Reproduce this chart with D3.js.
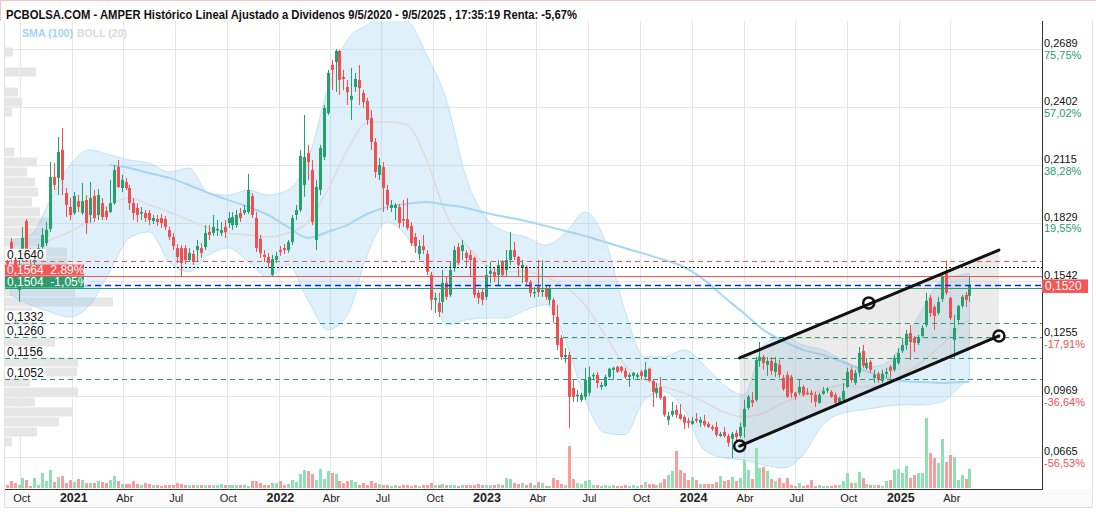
<!DOCTYPE html>
<html><head><meta charset="utf-8">
<script src="https://cdn.jsdelivr.net/npm/d3@7"></script>
<style>
body{margin:0;background:#fff;}
svg{display:block;font-family:"Liberation Sans",Arial,sans-serif;}
</style>
</head><body>
<svg id="c" width="1096" height="512"></svg>
<script>
// ---------------- DATA ----------------
const title = "PCBOLSA.COM - AMPER Histórico Lineal Ajustado a Dividenos 9/5/2020 - 9/5/2025 , 17:35:19 Renta: -5,67%";
const firstWeek = [2020, 8, 7]; // weekly candles from 7 Sep 2020

const opens = [.1640,.1733,.1654,.1495,.1644,.1837,.1683,.1634,.1664,.1708,.1728,.1798,.2056,.2051,.2190,.1976,.1907,.1877,.1936,.1877,.1941,.1867,.1961,.1867,.1926,.1887,.1882,.1926,.2105,.2001,.2031,.2001,.1926,.1902,.1877,.1877,.1877,.1837,.1847,.1852,.1847,.1793,.1758,.1703,.1703,.1703,.1644,.1674,.1693,.1703,.1708,.1783,.1778,.1793,.1778,.1808,.1827,.1817,.1817,.1877,.1877,.1882,.1961,.1852,.1748,.1669,.1659,.1570,.1644,.1693,.1703,.1693,.1733,.1867,.1892,.2016,.2175,.2090,.1743,.1991,.2155,.2373,.2611,.2626,.2681,.2552,.2502,.2438,.2502,.2537,.2472,.2433,.2349,.2229,.2066,.2105,.1991,.1902,.1902,.1907,.1847,.1847,.1813,.1758,.1674,.1713,.1674,.1570,.1446,.1431,.1436,.1530,.1471,.1604,.1708,.1689,.1679,.1669,.1654,.1481,.1485,.1461,.1575,.1585,.1570,.1634,.1594,.1644,.1693,.1659,.1604,.1609,.1535,.1481,.1510,.1485,.1505,.1446,.1446,.1361,.1257,.1163,.1173,.1009,.0970,.0950,.0965,.0985,.1069,.1074,.1014,.1019,.1064,.1099,.1114,.1114,.1094,.1064,.1069,.1064,.1089,.1064,.1104,.1044,.0985,.1014,.0965,.0851,.0876,.0900,.0880,.0866,.0846,.0831,.0856,.0836,.0846,.0831,.0816,.0816,.0771,.0791,.0771,.0757,.0786,.0771,.0816,.0910,.0950,.0950,.1143,.1163,.1124,.1143,.1089,.1124,.1059,.1074,.1064,.0985,.0985,.1014,.0985,.0985,.0975,.0935,.0980,.0999,.0990,.0975,.0935,.0950,.1014,.1099,.1034,.1084,.1193,.1109,.1138,.1059,.1079,.1044,.1079,.1114,.1099,.1133,.1193,.1222,.1282,.1257,.1232,.1267,.1321,.1456,.1411,.1381,.1451,.1580,.1456,.1247,.1346,.1416,.1471,.1466];
const highs = [.1664,.1753,.1669,.1644,.1808,.1847,.1703,.1693,.1723,.1803,.1832,.2130,.2125,.2254,.2299,.2001,.1951,.1981,.1966,.2026,.1966,.2031,.1991,.1996,.1951,.1907,.2041,.2115,.2140,.2066,.2051,.2016,.1951,.1926,.1907,.1892,.1892,.1867,.1867,.1872,.1862,.1808,.1778,.1723,.1718,.1718,.1703,.1693,.1743,.1728,.1817,.1817,.1867,.1842,.1832,.1842,.1882,.1882,.1892,.1902,.1917,.2071,.1976,.1882,.1768,.1693,.1679,.1669,.1684,.1713,.1723,.1743,.1867,.1917,.2190,.2363,.2215,.2140,.2041,.2215,.2413,.2587,.2636,.2691,.2686,.2587,.2537,.2597,.2572,.2611,.2487,.2448,.2388,.2249,.2150,.2130,.2016,.1941,.1926,.1922,.1941,.1951,.1832,.1778,.1743,.1768,.1693,.1585,.1481,.1481,.1594,.1560,.1634,.1713,.1728,.1743,.1693,.1693,.1660,.1495,.1505,.1619,.1634,.1604,.1644,.1644,.1693,.1783,.1733,.1664,.1644,.1619,.1545,.1510,.1644,.1644,.1520,.1520,.1456,.1421,.1272,.1207,.1188,.1049,.0999,.0985,.1109,.1114,.1084,.1089,.1039,.1074,.1109,.1114,.1119,.1119,.1109,.1084,.1089,.1084,.1099,.1138,.1110,.1049,.1034,.1064,.0970,.0890,.0940,.0925,.0930,.0876,.0861,.0866,.0885,.0866,.0876,.0841,.0826,.0841,.0791,.0816,.0781,.0791,.0801,.0836,.0950,.0975,.0990,.1163,.1237,.1173,.1163,.1163,.1163,.1148,.1074,.1089,.1074,.0990,.1049,.1024,.1009,.0999,.0990,.0985,.1014,.1014,.0999,.0985,.0965,.1034,.1109,.1114,.1099,.1212,.1222,.1158,.1148,.1099,.1089,.1099,.1109,.1124,.1173,.1207,.1257,.1297,.1321,.1267,.1272,.1321,.1481,.1471,.1421,.1461,.1580,.1640,.1461,.1371,.1421,.1471,.1485,.1560];
const lows = [.1600,.1634,.1565,.1436,.1634,.1634,.1624,.1619,.1644,.1693,.1713,.1783,.1991,.1966,.1966,.1857,.1842,.1867,.1882,.1867,.1773,.1827,.1832,.1842,.1842,.1842,.1877,.1917,.2001,.1981,.1991,.1892,.1842,.1832,.1842,.1832,.1817,.1822,.1813,.1803,.1793,.1743,.1693,.1629,.1560,.1624,.1634,.1619,.1634,.1654,.1693,.1743,.1763,.1763,.1763,.1753,.1803,.1793,.1803,.1832,.1867,.1872,.1852,.1684,.1654,.1634,.1604,.1560,.1629,.1664,.1674,.1679,.1718,.1842,.1882,.1957,.2041,.1817,.1693,.1966,.2140,.2363,.2487,.2477,.2463,.2487,.2413,.2339,.2477,.2413,.2398,.2314,.2190,.2051,.2041,.1882,.1892,.1882,.1842,.1803,.1808,.1793,.1713,.1679,.1644,.1674,.1570,.1396,.1381,.1361,.1381,.1446,.1461,.1585,.1619,.1644,.1609,.1560,.1456,.1426,.1421,.1446,.1530,.1535,.1515,.1560,.1560,.1619,.1644,.1560,.1530,.1520,.1461,.1456,.1461,.1461,.1446,.1421,.1332,.1198,.1148,.1133,.0811,.0940,.0940,.0940,.0950,.0970,.1049,.1009,.0999,.1014,.1059,.1049,.1084,.1084,.1054,.1014,.1049,.1049,.1049,.1054,.1039,.0915,.0960,.0950,.0866,.0826,.0866,.0861,.0851,.0806,.0811,.0826,.0836,.0816,.0816,.0811,.0796,.0766,.0766,.0762,.0717,.0662,.0737,.0762,.0762,.0900,.0915,.0940,.1114,.1099,.1069,.1074,.1064,.1059,.0994,.0960,.0960,.0950,.0975,.0965,.0975,.0935,.0915,.0930,.0975,.0985,.0960,.0925,.0925,.0940,.1009,.1034,.1024,.1064,.1109,.1099,.1084,.1034,.1034,.1034,.1059,.1059,.1089,.1124,.1183,.1198,.1148,.1188,.1222,.1262,.1311,.1361,.1297,.1371,.1436,.1471,.1346,.1158,.1321,.1406,.1411,.1436];
const closes = [.1625,.1654,.1594,.1619,.1753,.1644,.1644,.1674,.1703,.1768,.1793,.2056,.2016,.2180,.2041,.1917,.1867,.1961,.1907,.1936,.1827,.1951,.1852,.1966,.1857,.1857,.1926,.2090,.2006,.2041,.2001,.1926,.1877,.1867,.1882,.1852,.1842,.1852,.1832,.1827,.1808,.1758,.1713,.1659,.1629,.1644,.1679,.1634,.1713,.1679,.1778,.1768,.1808,.1798,.1793,.1783,.1852,.1857,.1867,.1852,.1892,.1991,.1867,.1703,.1679,.1659,.1629,.1649,.1664,.1684,.1693,.1733,.1852,.1892,.2160,.2155,.2130,.1832,.2006,.2200,.2398,.2572,.2587,.2681,.2537,.2542,.2477,.2458,.2542,.2497,.2428,.2339,.2229,.2080,.2115,.2001,.1917,.1917,.1917,.1827,.1842,.1803,.1728,.1713,.1713,.1693,.1585,.1446,.1456,.1386,.1530,.1461,.1594,.1693,.1629,.1718,.1654,.1644,.1471,.1456,.1446,.1570,.1590,.1565,.1619,.1570,.1644,.1693,.1659,.1619,.1619,.1535,.1481,.1485,.1485,.1495,.1461,.1505,.1371,.1222,.1163,.1173,.0965,.0965,.0975,.0975,.1049,.1064,.1074,.1034,.1024,.1064,.1104,.1109,.1089,.1094,.1064,.1074,.1084,.1074,.1069,.1099,.1044,.0990,.1009,.0960,.0876,.0871,.0895,.0876,.0856,.0836,.0836,.0846,.0846,.0851,.0826,.0816,.0806,.0776,.0781,.0771,.0737,.0781,.0766,.0816,.0905,.0965,.0935,.1148,.1163,.1133,.1143,.1094,.1133,.1074,.1004,.0965,.0985,.0965,.1014,.0975,.0980,.0975,.0940,.0975,.0994,.1004,.0965,.0935,.0960,.0994,.1089,.1049,.1084,.1183,.1119,.1133,.1099,.1074,.1049,.1079,.1089,.1094,.1158,.1183,.1222,.1277,.1237,.1232,.1262,.1307,.1441,.1381,.1366,.1436,.1560,.1481,.1356,.1307,.1416,.1461,.1446,.1520];
const volumes = [3,7,5,3,10,8,2,10,3,15,7,18,6,11,12,5,8,6,9,8,5,5,5,7,6,5,8,12,7,4,4,4,7,4,3,5,4,3,3,2,3,3,3,5,4,3,3,3,3,3,3,3,3,3,4,3,3,3,3,3,3,2,7,7,5,3,3,5,5,7,3,4,8,6,14,18,17,14,8,19,9,17,15,14,7,5,7,8,6,3,5,3,7,5,
 4,3,3,2,3,2,3,3,2,3,2,3,3,5,3,3,4,3,3,3,2,3,3,3,3,4,3,3,3,3,4,3,
 10,9,5,4,5,3,5,3,6,5,2,2,10,8,4,3,42,9,5,4,7,8,3,3,2,3,2,3,2,2,3,2,3,2,3,6,4,4,3,5,
 9,13,17,37,18,15,8,11,8,4,4,4,4,6,12,7,8,11,7,10,28,18,9,40,20,21,17,9,7,
 10,5,10,3,2,5,2,3,8,2,3,2,2,2,3,3,7,15,5,5,16,10,4,3,3,3,2,7,8,18,19,15,22,10,13,15,15,70,35,30,25,49,26,33,31,8,13,9,19];

// Bollinger (20) and SMA (100), sampled at candle indices
const bandWeek = [1,6,11,16,21,26,31,36,41,46,51,56,61,66,71,76,81,86,91,96,101,106,111,116,121,126,131,136,141,146,151,156,161,166,171,176,181,186,191,196,201,206,211,216,221,226,231,236,241,243];
const bollUpper = [.1743,.1768,.1941,.2115,.2190,.2165,.2140,.2125,.2081,.2100,.1976,.1966,.1991,.1966,.1991,.2140,.2487,.2735,.2810,.2859,.2834,.2661,.2438,.2051,.1852,.1783,.1758,.1718,.1778,.1882,.1743,.1396,.1163,.1163,.1198,.1123,.1024,.0975,.1222,.1262,.1222,.1198,.1148,.1109,.1123,.1222,.1396,.1545,.1570,.1579];
const bollLower = [.1470,.1421,.1386,.1361,.1421,.1585,.1753,.1783,.1634,.1585,.1669,.1703,.1634,.1560,.1619,.1446,.1297,.1371,.1669,.1832,.1758,.1594,.1321,.1346,.1356,.1356,.1396,.1421,.1247,.0950,.0786,.0776,.0950,.0989,.0900,.0702,.0662,.0652,.0627,.0612,.0677,.0826,.0885,.0900,.0915,.0925,.0925,.0940,.1024,.1059];
const bollMid = [.1619,.1669,.1743,.1783,.1842,.1917,.1951,.1917,.1882,.1842,.1803,.1778,.1768,.1758,.1778,.1832,.1991,.2190,.2324,.2329,.2314,.2140,.1867,.1718,.1619,.1585,.1585,.1560,.1510,.1421,.1272,.1123,.1049,.1014,.0984,.0940,.0890,.0866,.0885,.0935,.0974,.0999,.1024,.1014,.1024,.1074,.1138,.1222,.1321,.1346];
const smaWeek = bandWeek.slice(5);
const sma100 = [.2115,.2100,.2075,.2051,.2016,.1976,.1941,.1907,.1867,.1808,.1753,.1783,.1818,.1872,.1907,.1922,.1932,.1917,.1902,.1877,.1857,.1837,.1813,.1788,.1763,.1733,.1703,.1674,.1644,.1609,.1545,.1461,.1381,.1297,.1242,.1198,.1173,.1138,.1099,.1064,.1044,.1039,.1034,.1039,.1039];

// Volume profile (price bins)
const profileBase = 0.07163, profileStep = 0.00496;
const profileVol = [7,32,54,67,30,73,25,72,73,20,50,40,30,27,108,70,80,60,62,62,43,45,48,35,27,33,30,22,32,9,0,0,0,7,17,13,0,31,0,8];

// Axes
const priceTicks = [0.2689,0.2402,0.2115,0.1829,0.1542,0.1255,0.0969,0.0665];
const pctLabels = ["75,75%","57,02%","38,28%","19,55%","","-17,91%","-36,64%","-56,53%"];
const xTickDates = ["2020-10-01","2021-01-01","2021-04-01","2021-07-01","2021-10-01","2022-01-01","2022-04-01","2022-07-01","2022-10-01","2023-01-01","2023-04-01","2023-07-01","2023-10-01","2024-01-01","2024-04-01","2024-07-01","2024-10-01","2025-01-01","2025-04-01"];
const xTickLabels = ["Oct","2021","Abr","Jul","Oct","2022","Abr","Jul","Oct","2023","Abr","Jul","Oct","2024","Abr","Jul","Oct","2025","Abr"];

// Horizontal levels
const supportLevels = [0.1332,0.1260,0.1156,0.1052];
const resistLevel = 0.1640;
const maxDotted = 0.1610;
const redBox = {p:0.1564, text:"0,1564  2.89%"};
const greenBox = {p:0.1504, text:"0,1504  -1,05%"};
const lastPrice = 0.1520;

// Trend channel
const channelDates = ["2024-03-25","2025-06-26"];
const channelTop = [0.1158,0.1693];
const channelBottom = [0.0721,0.1267];
const channelDots = [{d:"2024-03-25",p:0.0721},{d:"2024-11-08",p:0.1431},{d:"2025-06-26",p:0.1267}];

// ---------------- DRAW ----------------
const svg = d3.select("#c");
const L=5, R=1042, T=21, B=489;
const pd = s => { const [a,b,c]=s.split("-").map(Number); return new Date(a,b-1,c); };
const week = i => new Date(firstWeek[0], firstWeek[1], firstWeek[2] + 7*i);
const x = d3.scaleTime().domain([new Date(2021,0,1), new Date(2025,0,1)]).range([72.3, 899.3]);
const y = d3.scaleLinear().domain([0.0665,0.2689]).range([457.3,49.3]);
const yv = d3.scaleLinear().domain([0,70]).range([488,418]);
const pw = d3.scaleLinear().domain([0,108]).range([0,108]);
const fmt = v => d3.format(".4f")(v).replace(".", ",");
const GREEN="#26a06f", RED="#f44f4f";

svg.append("rect").attr("width",1096).attr("height",512).attr("fill","#fff");
svg.append("defs").append("clipPath").attr("id","clip").append("rect").attr("x",L).attr("y",T).attr("width",R-L).attr("height",B-T);

// bottom strip
svg.append("rect").attr("x",L).attr("y",B).attr("width",1092-L).attr("height",18).attr("fill","#fafafa");
svg.append("line").attr("x1",L).attr("x2",1092).attr("y1",507.5).attr("y2",507.5).attr("stroke","#e2e2e2");
svg.append("line").attr("x1",1092.5).attr("x2",1092.5).attr("y1",21).attr("y2",508).attr("stroke","#e2e2e2");
svg.append("line").attr("x1",4.5).attr("x2",4.5).attr("y1",21).attr("y2",508).attr("stroke","#e2e2e2");
svg.append("line").attr("x1",0).attr("x2",1096).attr("y1",0.5).attr("y2",0.5).attr("stroke","#f1c6c6");
svg.append("line").attr("x1",0.5).attr("x2",0.5).attr("y1",0).attr("y2",21).attr("stroke","#f1c6c6");

const plot = svg.append("g").attr("clip-path","url(#clip)");

// grid
plot.selectAll("line.hg").data(priceTicks).join("line")
  .attr("x1",L).attr("x2",R).attr("y1",d=>Math.round(y(d))+0.5).attr("y2",d=>Math.round(y(d))+0.5)
  .attr("stroke","#e6e6e6");
plot.selectAll("line.vg").data(xTickDates).join("line")
  .attr("x1",d=>Math.round(x(pd(d)))+0.5).attr("x2",d=>Math.round(x(pd(d)))+0.5).attr("y1",T).attr("y2",B)
  .attr("stroke","#e6e6e6");

// volume profile
plot.selectAll("rect.prof").data(profileVol).join("rect")
  .attr("x",L).attr("y",(v,k)=>y(profileBase+(k+1)*profileStep)+0.5)
  .attr("height",(v,k)=>y(profileBase+k*profileStep)-y(profileBase+(k+1)*profileStep)-1)
  .attr("width",v=>pw(v)).attr("fill","#e6e6e6");

// Bollinger bands
const band = bandWeek.map((w,k)=>({d:week(w),u:bollUpper[k],l:bollLower[k],m:bollMid[k]}));
plot.append("path").datum(band)
  .attr("d", d3.area().x(d=>x(d.d)).y0(d=>y(d.l)).y1(d=>y(d.u)).curve(d3.curveMonotoneX))
  .attr("fill","rgba(140,200,242,0.28)").attr("stroke","rgba(140,200,242,0.45)").attr("stroke-width",1);
plot.append("path").datum(band)
  .attr("d", d3.line().x(d=>x(d.d)).y(d=>y(d.m)).curve(d3.curveMonotoneX))
  .attr("fill","none").attr("stroke","#e0dada").attr("stroke-width",1.5);
const sma = smaWeek.map((w,k)=>({d:week(w),v:sma100[k]}));
plot.append("path").datum(sma)
  .attr("d", d3.line().x(d=>x(d.d)).y(d=>y(d.v)).curve(d3.curveMonotoneX))
  .attr("fill","none").attr("stroke","#a6d6f6").attr("stroke-width",2);

// channel fill
const cd = channelDates.map(pd);
plot.append("path")
  .attr("d", d3.line()([[x(cd[0]),y(channelTop[0])],[x(cd[1]),y(channelTop[1])],[x(cd[1]),y(channelBottom[1])],[x(cd[0]),y(channelBottom[0])]]) + "Z")
  .attr("fill","rgba(175,175,175,0.25)");

// candles + volume
const candles = opens.map((o,i)=>({d:week(i),o,h:highs[i],l:lows[i],c:closes[i],v:volumes[i]}));
const cx = d => Math.round(x(d.d));
plot.selectAll("rect.vol").data(candles).join("rect")
  .attr("x",d=>cx(d)-1).attr("width",3)
  .attr("y",d=>yv(d.v)).attr("height",d=>yv(0)-yv(d.v))
  .attr("fill",d=>d.c>=d.o?"#8fe0b4":"#f89c9c");
plot.selectAll("rect.wick").data(candles).join("rect")
  .attr("x",d=>cx(d)).attr("width",1)
  .attr("y",d=>y(d.h)).attr("height",d=>Math.max(1,y(d.l)-y(d.h)))
  .attr("fill",d=>d.c>=d.o?GREEN:RED);
plot.selectAll("rect.body").data(candles).join("rect")
  .attr("x",d=>cx(d)-1).attr("width",3)
  .attr("y",d=>y(Math.max(d.o,d.c))).attr("height",d=>Math.max(1.5,Math.abs(y(d.o)-y(d.c))))
  .attr("fill",d=>d.c>=d.o?GREEN:RED);

// horizontal level lines
const hl = (p,color,dash,w) => plot.append("line").attr("x1",L).attr("x2",R)
  .attr("y1",Math.round(y(p))+0.5).attr("y2",Math.round(y(p))+0.5)
  .attr("stroke",color).attr("stroke-width",w||1).attr("stroke-dasharray",dash||null);
hl(resistLevel,"#f55555","5,4");
hl(maxDotted,"#111","2,2");
hl(redBox.p,"#f55555");
hl(greenBox.p,"#2c9a6c");
hl(lastPrice,"#1020ff","6,4",1.5);
supportLevels.forEach(p=>hl(p,"#2c9a6c","5,4"));

// channel lines + dots
plot.selectAll("line.ch").data([channelTop,channelBottom]).join("line")
  .attr("x1",x(cd[0])).attr("x2",x(cd[1])).attr("y1",d=>y(d[0])).attr("y2",d=>y(d[1]))
  .attr("stroke","#111").attr("stroke-width",3).attr("stroke-linecap","round");
plot.selectAll("circle.dot").data(channelDots).join("circle")
  .attr("cx",d=>x(pd(d.d))).attr("cy",d=>y(d.p)).attr("r",5.5)
  .attr("fill","none").attr("stroke","#111").attr("stroke-width",2.5);

// left labels
const lab = svg.append("g").style("font-size","12px");
[resistLevel,...supportLevels].forEach(p=>{
  const g = lab.append("g");
  const t = g.append("text").attr("x",7).attr("y",y(p)-2).attr("fill","#111").text(fmt(p));
  const bb = t.node().getBBox();
  g.insert("rect","text").attr("x",L).attr("y",y(p)-12).attr("width",bb.width+4).attr("height",11).attr("fill","#fff");
});
[[redBox,"#f55555"],[greenBox,"#2a9d6e"]].forEach(([b,col])=>{
  lab.append("rect").attr("x",L).attr("y",y(b.p)-11.5).attr("width",79).attr("height",11).attr("fill",col);
  lab.append("text").attr("x",7).attr("y",y(b.p)-2).attr("fill","#fff").attr("xml:space","preserve").style("white-space","pre").text(b.text);
});

// frame lines
svg.append("line").attr("x1",L).attr("x2",R+0.5).attr("y1",B+0.5).attr("y2",B+0.5).attr("stroke","#333");
svg.append("line").attr("x1",R+0.5).attr("x2",R+0.5).attr("y1",T).attr("y2",B+1).attr("stroke","#333");

// right axis
const ra = svg.append("g").attr("transform",`translate(${R},0)`)
  .call(d3.axisRight(y).tickValues(priceTicks).tickFormat(fmt).tickSize(0).tickPadding(2));
ra.select(".domain").remove();
ra.selectAll("text").attr("dy","-2.5").attr("fill","#111").style("font-size","11px").style("font-family","'Liberation Sans',Arial,sans-serif");
svg.selectAll("text.pct").data(priceTicks).join("text").attr("class","pct")
  .attr("x",R+2).attr("y",d=>y(d)+9.5).style("font-size","11px")
  .attr("fill",(d,i)=>pctLabels[i].startsWith("-")?"#f05050":"#2a9d6e").text((d,i)=>pctLabels[i]);
svg.append("rect").attr("x",R).attr("y",y(lastPrice)-5.5).attr("width",46).attr("height",13.5).attr("fill","#f55555");
svg.append("text").attr("x",R+3).attr("y",y(lastPrice)+5.5).attr("fill","#fff").style("font-size","12px").text(fmt(lastPrice));

// bottom axis
const xa = svg.append("g").attr("transform",`translate(0,${B})`)
  .call(d3.axisBottom(x).tickValues(xTickDates.map(pd)).tickFormat((d,i)=>xTickLabels[i]).tickSize(0));
xa.select(".domain").remove();
xa.selectAll("text").attr("y",13).attr("dy",0).attr("dx",1).attr("fill","#222")
  .style("font-family","'Liberation Sans',Arial,sans-serif")
  .style("font-size",(d,i)=>/^\d{4}$/.test(xTickLabels[i])?"12.5px":"11px")
  .style("font-weight",(d,i)=>/^\d{4}$/.test(xTickLabels[i])?"bold":"normal");

// title + legend
svg.append("text").attr("x",6).attr("y",19).attr("fill","#111").style("font-weight","bold").style("font-size","12.5px")
  .attr("textLength",571).attr("lengthAdjust","spacingAndGlyphs").text(title);
svg.append("text").attr("x",22).attr("y",36.5).attr("fill","#a3d3f4").style("font-weight","bold").style("font-size","11px")
  .attr("textLength",51).attr("lengthAdjust","spacingAndGlyphs").text("SMA (100)");
svg.append("text").attr("x",77).attr("y",36.5).attr("fill","#dadada").style("font-weight","bold").style("font-size","11px")
  .attr("textLength",50).attr("lengthAdjust","spacingAndGlyphs").text("BOLL (20)");
</script>
</body></html>
